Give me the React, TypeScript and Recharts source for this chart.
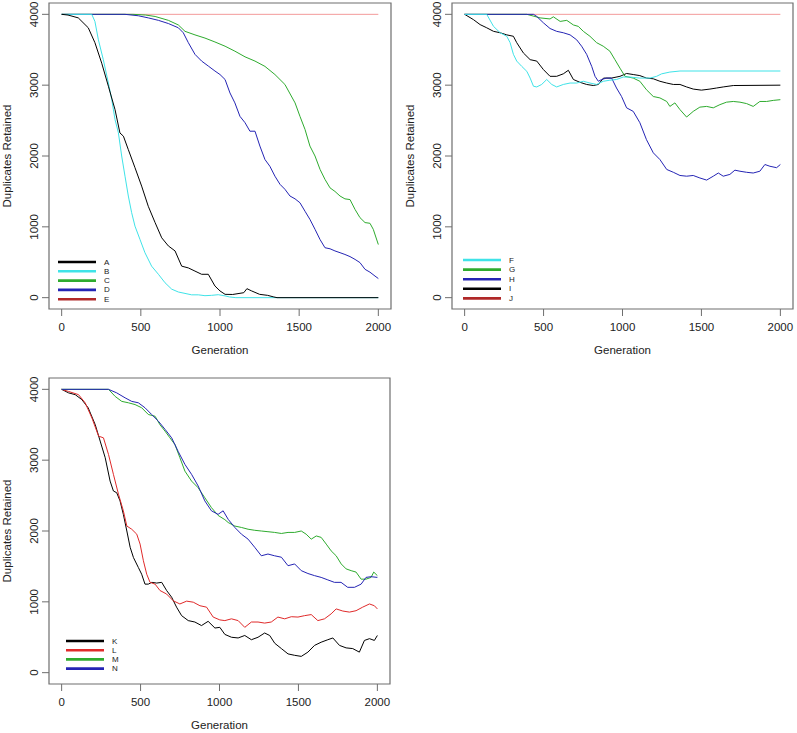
import { LineChart, Line, XAxis, YAxis, ReferenceArea } from "recharts";

const xTicks = [0, 500, 1000, 1500, 2000];
const yTicks = [0, 1000, 2000, 3000, 4000];

// panel 1
const seriesA: [number, number][] = [[0,4000],[40,3990],[105,3950],[168,3810],[210,3600],[253,3310],[295,2985],[337,2655],[368,2325],[390,2280],[421,2090],[463,1835],[505,1575],[547,1290],[590,1060],[632,845],[674,730],[716,660],[758,445],[800,420],[842,375],[884,330],[926,330],[968,165],[1000,95],[1032,47],[1080,45],[1150,70],[1170,127],[1200,95],[1250,47],[1300,33],[1340,10],[1360,0],[2000,0]];
const seriesB: [number, number][] = [[0,4000],[190,4000],[210,3900],[232,3640],[263,3360],[295,3030],[316,2800],[337,2515],[358,2330],[379,2000],[400,1715],[421,1435],[442,1200],[463,1010],[495,820],[526,635],[568,445],[611,330],[653,210],[695,120],[737,80],[779,60],[821,40],[863,40],[905,28],[947,33],[989,42],[1032,25],[1060,10],[1100,0],[2000,0]];
const seriesC: [number, number][] = [[0,4000],[450,4000],[530,3990],[590,3970],[674,3915],[737,3850],[779,3760],[842,3710],[905,3665],[968,3610],[1032,3550],[1094,3480],[1158,3400],[1221,3340],[1284,3265],[1347,3150],[1410,3010],[1474,2750],[1505,2560],[1537,2375],[1568,2140],[1600,2000],[1632,1810],[1663,1670],[1695,1550],[1726,1500],[1758,1435],[1789,1395],[1821,1385],[1853,1245],[1884,1130],[1916,1060],[1947,1050],[1968,965],[2000,750]];
const seriesD: [number, number][] = [[0,4000],[400,4000],[484,3980],[547,3950],[611,3915],[674,3870],[737,3810],[768,3740],[800,3600],[842,3435],[884,3340],[926,3270],[968,3200],[1000,3150],[1032,3080],[1063,2890],[1094,2750],[1126,2560],[1158,2470],[1189,2350],[1221,2350],[1252,2140],[1284,1950],[1315,1855],[1347,1715],[1379,1600],[1410,1530],[1442,1435],[1474,1395],[1505,1340],[1537,1220],[1568,1105],[1600,965],[1632,820],[1663,705],[1695,690],[1726,660],[1758,635],[1789,610],[1821,580],[1853,540],[1884,495],[1916,400],[1947,360],[1979,305],[2000,270]];
const seriesE: [number, number][] = [[0,4000],[2000,4000]];

// panel 2
const seriesF: [number, number][] = [[0,4000],[140,4000],[183,3830],[225,3740],[267,3690],[288,3600],[309,3435],[330,3340],[362,3265],[394,3195],[415,3100],[436,2985],[457,2975],[488,3010],[520,3080],[552,3010],[583,2975],[625,3010],[668,3030],[710,3030],[752,3055],[794,3030],[836,3010],[878,3055],[920,3070],[962,3080],[1005,3115],[1047,3115],[1110,3100],[1174,3100],[1216,3125],[1248,3160],[1300,3185],[1364,3200],[2000,3200]];
const seriesG: [number, number][] = [[0,4000],[394,4000],[478,3950],[541,3935],[562,3965],[605,3900],[647,3915],[689,3850],[720,3830],[752,3760],[794,3690],[836,3600],[878,3550],[920,3480],[952,3360],[984,3240],[1016,3125],[1068,3100],[1110,3055],[1152,2935],[1195,2840],[1237,2820],[1280,2770],[1300,2700],[1332,2750],[1364,2655],[1406,2550],[1448,2630],[1490,2690],[1533,2700],[1575,2680],[1617,2725],[1659,2760],[1702,2770],[1744,2760],[1786,2740],[1828,2700],[1870,2770],[1913,2770],[1955,2785],[2000,2795]];
const seriesH: [number, number][] = [[0,4000],[436,4000],[457,3970],[499,3880],[541,3800],[583,3760],[625,3740],[668,3710],[710,3640],[741,3550],[773,3435],[805,3265],[826,3125],[847,3055],[868,3080],[899,3100],[931,3100],[962,2960],[994,2840],[1026,2680],[1068,2630],[1110,2470],[1152,2230],[1195,2045],[1237,1950],[1280,1810],[1322,1770],[1364,1725],[1406,1715],[1448,1725],[1490,1690],[1533,1660],[1575,1715],[1607,1760],[1638,1715],[1680,1740],[1712,1800],[1744,1785],[1786,1770],[1828,1760],[1870,1785],[1902,1880],[1934,1855],[1976,1835],[2000,1880]];
const seriesI: [number, number][] = [[0,4000],[56,3925],[98,3855],[140,3810],[183,3760],[225,3740],[267,3710],[309,3690],[330,3600],[372,3455],[415,3360],[457,3340],[499,3220],[541,3125],[583,3125],[625,3160],[657,3210],[689,3080],[731,3040],[773,3010],[815,2995],[847,3010],[880,3100],[930,3100],[984,3125],[1026,3165],[1068,3150],[1110,3135],[1152,3100],[1195,3090],[1237,3055],[1280,3030],[1322,3010],[1364,3010],[1406,2975],[1448,2945],[1500,2930],[1554,2945],[1596,2960],[1638,2975],[1702,2995],[2000,3000]];
const seriesJ: [number, number][] = [[0,4000],[2000,4000]];

// panel 3
const seriesK: [number, number][] = [[0,4000],[44,3950],[86,3925],[128,3855],[168,3740],[213,3500],[244,3270],[276,3035],[307,2705],[328,2565],[349,2540],[370,2425],[391,2235],[413,2000],[434,1770],[455,1625],[486,1485],[507,1390],[528,1250],[549,1250],[571,1275],[602,1265],[634,1275],[665,1160],[697,1065],[728,925],[760,805],[802,735],[844,715],[886,665],[928,725],[971,630],[1002,640],[1034,540],[1076,500],[1118,490],[1160,525],[1202,465],[1244,500],[1286,560],[1318,525],[1350,415],[1392,340],[1434,265],[1476,245],[1518,230],[1560,290],[1602,385],[1644,430],[1686,465],[1718,490],[1760,385],[1802,350],[1844,340],[1886,290],[1918,455],[1950,480],[1981,455],[2000,525]];
const seriesL: [number, number][] = [[0,4000],[44,3970],[107,3925],[149,3810],[192,3595],[234,3340],[265,3315],[297,3080],[328,2800],[360,2520],[391,2285],[413,2070],[444,2025],[476,1955],[497,1815],[518,1580],[539,1390],[560,1275],[592,1250],[623,1160],[665,1110],[707,1015],[749,970],[792,1010],[834,995],[876,945],[918,925],[960,785],[1002,745],[1034,735],[1076,760],[1118,735],[1160,640],[1202,715],[1244,715],[1286,700],[1328,715],[1370,785],[1413,760],[1455,790],[1497,785],[1539,805],[1581,820],[1623,735],[1665,760],[1707,830],[1739,900],[1781,870],[1823,855],[1865,875],[1907,925],[1950,970],[1981,945],[2000,900]];
const seriesM: [number, number][] = [[0,4000],[297,4000],[339,3900],[381,3830],[423,3810],[465,3785],[507,3740],[549,3645],[592,3620],[623,3500],[655,3410],[686,3315],[718,3220],[749,3035],[781,2845],[823,2705],[865,2610],[907,2470],[949,2330],[991,2220],[1034,2160],[1055,2120],[1097,2070],[1139,2050],[1181,2025],[1223,2010],[1265,2000],[1307,1990],[1349,1980],[1392,1965],[1434,1980],[1476,1980],[1518,2000],[1549,1955],[1581,1885],[1613,1930],[1644,1910],[1676,1815],[1707,1720],[1739,1650],[1771,1535],[1802,1465],[1834,1440],[1865,1420],[1897,1320],[1928,1320],[1960,1345],[1977,1420],[2000,1370]];
const seriesN: [number, number][] = [[0,4000],[297,4000],[349,3950],[402,3880],[444,3830],[486,3810],[528,3740],[570,3645],[613,3550],[655,3435],[697,3315],[739,3120],[781,2940],[823,2800],[865,2635],[907,2425],[949,2285],[991,2235],[1023,2285],[1055,2165],[1097,2050],[1139,1955],[1181,1885],[1223,1770],[1265,1650],[1307,1675],[1349,1650],[1392,1630],[1434,1510],[1476,1535],[1518,1440],[1560,1400],[1602,1370],[1644,1345],[1686,1310],[1728,1275],[1770,1275],[1812,1205],[1855,1205],[1897,1250],[1928,1345],[1960,1355],[2000,1345]];

const BLACK = "#000000";
const CYAN = "#3fe3e8";
const GREEN = "#2eab2e";
const BLUE = "#2424b4";
const DARKRED = "#b02828";
const PINK = "#f39a9a";
const RED = "#e02a2a";

type Series = { name: string; color: string; line?: string; pts: [number, number][] };

const panel1: Series[] = [
  { name: "A", color: BLACK, pts: seriesA },
  { name: "B", color: CYAN, pts: seriesB },
  { name: "C", color: GREEN, pts: seriesC },
  { name: "D", color: BLUE, pts: seriesD },
  { name: "E", color: DARKRED, line: PINK, pts: seriesE },
];
const panel2: Series[] = [
  { name: "F", color: CYAN, pts: seriesF },
  { name: "G", color: GREEN, pts: seriesG },
  { name: "H", color: BLUE, pts: seriesH },
  { name: "I", color: BLACK, pts: seriesI },
  { name: "J", color: DARKRED, line: PINK, pts: seriesJ },
];
const panel3: Series[] = [
  { name: "K", color: BLACK, pts: seriesK },
  { name: "L", color: RED, pts: seriesL },
  { name: "M", color: GREEN, pts: seriesM },
  { name: "N", color: BLUE, pts: seriesN },
];

const FONT = "'Liberation Sans', Arial, sans-serif";
const BOX = "#6e6e6e";

const XTick = (props: any) => {
  const { x, y, payload } = props;
  return (
    <text x={x} y={y + 9} textAnchor="middle" dominantBaseline="central" fontSize={11.5} fontFamily={FONT} fill="#222">
      {payload.value}
    </text>
  );
};

const YTick = (props: any) => {
  const { x, y, payload } = props;
  const bx = x - 2;
  return (
    <text x={bx} y={y} textAnchor="middle" transform={`rotate(-90, ${bx}, ${y})`} fontSize={11.5} fontFamily={FONT} fill="#222">
      {payload.value}
    </text>
  );
};

const Legend = ({ series, left, top, gap }: { series: Series[]; left: number; top: number; gap: number }) => (
  <svg width={70} height={60} style={{ position: "absolute", left, top, overflow: "visible" }}>
    {series.map((s, i) => (
      <g key={s.name}>
        <line x1={0} x2={38} y1={i * gap} y2={i * gap} stroke={s.color} strokeWidth={2.6} />
        <text x={46} y={i * gap} dominantBaseline="central" fontSize={8} fontFamily={FONT} fill="#222">
          {s.name}
        </text>
      </g>
    ))}
  </svg>
);

const Panel = ({
  left,
  top,
  width,
  rightMargin,
  series,
  order,
  legend,
}: {
  left: number;
  top: number;
  width: number;
  rightMargin: number;
  series: Series[];
  order: number[];
  legend: { left: number; top: number; gap: number };
}) => {
  const height = 366;
  return (
    <div style={{ position: "absolute", left, top, width, height }}>
      <LineChart width={width} height={height} margin={{ top: 3, right: rightMargin, bottom: 0, left: 0 }}>
        <XAxis
          dataKey="g"
          type="number"
          domain={[-80, 2080]}
          ticks={xTicks}
          allowDataOverflow
          height={57}
          axisLine={false}
          tickLine={{ stroke: BOX }}
          tickSize={7}
          tick={<XTick />}
          label={{
            content: (p: any) => {
              const vb = p.viewBox;
              return (
                <text x={vb.x + vb.width / 2} y={vb.y + 41} textAnchor="middle" dominantBaseline="central" fontSize={11.5} fontFamily={FONT} fill="#222">
                  Generation
                </text>
              );
            },
          }}
        />
        <YAxis
          type="number"
          domain={[-160, 4160]}
          ticks={yTicks}
          allowDataOverflow
          width={49}
          axisLine={false}
          tickLine={{ stroke: BOX }}
          tickSize={7}
          tick={<YTick />}
          label={{
            content: (p: any) => {
              const vb = p.viewBox;
              const cx = vb.x + 11;
              const cy = vb.y + vb.height / 2;
              return (
                <text x={cx} y={cy} textAnchor="middle" transform={`rotate(-90, ${cx}, ${cy})`} fontSize={11.5} fontFamily={FONT} fill="#222">
                  Duplicates Retained
                </text>
              );
            },
          }}
        />
        {order.map((i) => {
          const s = series[i];
          return (
            <Line
              key={s.name}
              data={s.pts.map(([g, v]) => ({ g, v }))}
              dataKey="v"
              type="linear"
              stroke={s.line ?? s.color}
              strokeWidth={1}
              dot={false}
              activeDot={false}
              isAnimationActive={false}
            />
          );
        })}
        <ReferenceArea x1={-80} x2={2080} y1={-160} y2={4160} fill="none" stroke={BOX} strokeWidth={1.2} ifOverflow="visible" />
      </LineChart>
      <Legend series={series} left={legend.left} top={legend.top} gap={legend.gap} />
    </div>
  );
};

export default function App() {
  return (
    <div style={{ position: "absolute", left: 0, top: 0, width: 797, height: 733, overflow: "hidden", background: "#fff" }}>
      <Panel left={0} top={0} width={400} rightMargin={9} series={panel1} order={[4, 2, 3, 1, 0]} legend={{ left: 58, top: 262, gap: 9.3 }} />
      <Panel left={403} top={0} width={394} rightMargin={4} series={panel2} order={[4, 3, 1, 2, 0]} legend={{ left: 60, top: 260, gap: 9.6 }} />
      <Panel left={0} top={375} width={400} rightMargin={10} series={panel3} order={[0, 1, 2, 3]} legend={{ left: 66, top: 266, gap: 9.2 }} />
    </div>
  );
}
